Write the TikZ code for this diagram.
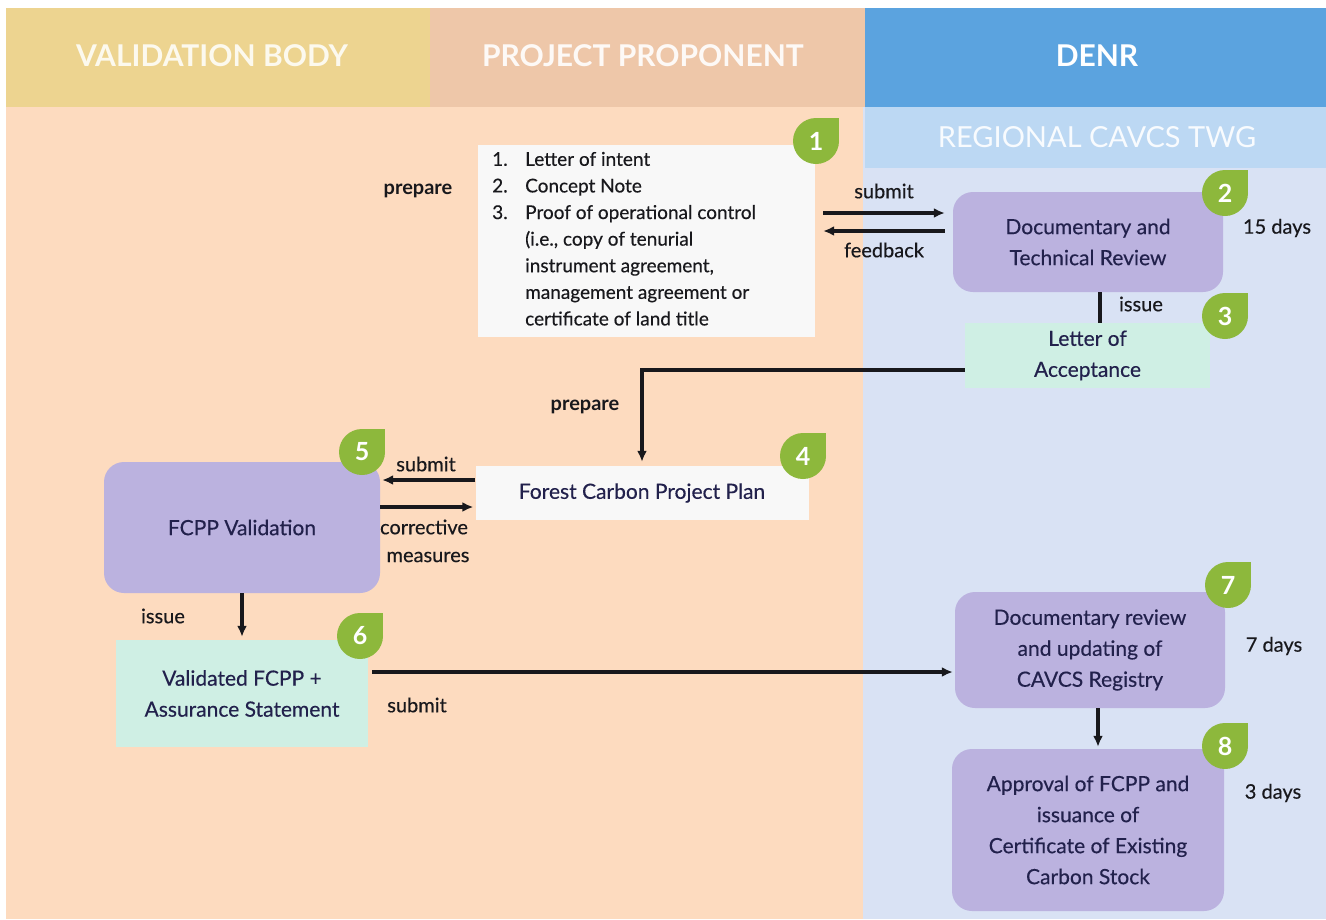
\documentclass[tikz,border=0pt]{standalone}
\usepackage{fontspec}
\setmainfont{Lato}
\newfontfamily\medfont{Lato}[FakeBold=0.35]
\usetikzlibrary{arrows.meta}
\definecolor{vbhead}{HTML}{EDD490}
\definecolor{pphead}{HTML}{EEC7A9}
\definecolor{denrhead}{HTML}{5BA3DF}
\definecolor{twg}{HTML}{BCD8F3}
\definecolor{peach}{HTML}{FDDBBF}
\definecolor{denrbg}{HTML}{D9E2F4}
\definecolor{purp}{HTML}{BBB2DF}
\definecolor{mint}{HTML}{CFEFE4}
\definecolor{paper}{HTML}{F8F8F8}
\definecolor{leaf}{HTML}{8DB83C}
\definecolor{navy}{HTML}{22214C}
\definecolor{ink}{HTML}{18181C}
\newcommand\leafbadge[3]{%
  \fill[leaf] (#1) circle (23pt);
  \fill[leaf] (#1) rectangle ++(23,-23);
  \node[badgetext] (#2) at (#1) {#3};}
\begin{document}
\begin{tikzpicture}[x=1pt,y=-1pt,
  boxtext/.style={font=\medfont\fontsize{21}{31}\selectfont, text=navy, align=center, inner sep=0pt},
  purpbox/.style={boxtext, fill=purp, rounded corners=20pt},
  mintbox/.style={boxtext, fill=mint},
  paperbox/.style={boxtext, fill=paper},
  lbl/.style={font=\medfont\fontsize{20}{24}\selectfont, text=ink, inner sep=0pt},
  badgetext/.style={font=\bfseries\fontsize{25}{25}\selectfont, text=white, inner sep=0pt},
  head/.style={font=\bfseries\fontsize{30}{30}\selectfont, inner sep=0pt},
  arr/.style={draw=ink, line width=3.2pt, -{Latex[length=11pt,width=10pt]}},
  plain/.style={draw=ink, line width=3.2pt}]
\useasboundingbox (0,0) rectangle (1326,919);
\fill[white] (0,0) rectangle (1326,919);
% lanes
\fill[vbhead] (6,8) rectangle (430,107);
\fill[pphead] (430,8) rectangle (865,107);
\fill[denrhead] (865,8) rectangle (1326,107);
\fill[peach] (6,107) rectangle (863,919);
\fill[denrbg] (863,107) rectangle (1326,919);
\fill[twg] (865,107) rectangle (1326,168);
\node[head, text=white!85!vbhead] (hvb) at (212,56) {VALIDATION BODY};
\node[head, text=white!90!pphead] (hpp) at (643,56) {PROJECT PROPONENT};
\node[head, text=white] (hdenr) at (1097,56) {DENR};
\node[font=\fontsize{29}{29}\selectfont, inner sep=0pt, text=white!90!twg] (htwg) at (1097,137) {REGIONAL CAVCS TWG};
% step 1
\node[paperbox, minimum width=337pt, minimum height=192pt] (n1) at (646.5,241) {};
\node[anchor=north west, inner sep=0pt, font=\medfont\fontsize{19}{26.6}\selectfont, text=ink] (n1t) at (492,147)
 {\begin{tabular}{@{}p{33pt}@{}l@{}}
  1. & Letter of intent\\
  2. & Concept Note\\
  3. & Proof of operational control\\
     & (i.e., copy of tenurial\\
     & instrument agreement,\\
     & management agreement or\\
     & certificate of land title
  \end{tabular}};
\leafbadge{816,141}{b1}{1}
\node[lbl, font=\bfseries\fontsize{20}{24}\selectfont] (lprep1) at (418,191) {prepare};
% step 2
\node[purpbox, minimum width=270pt, minimum height=100pt] (n2) at (1088,242) {Documentary and\\Technical Review};
\leafbadge{1225,193}{b2}{2}
\node[lbl] (l15) at (1277,228) {15 days};
\draw[arr, shorten <=8pt, shorten >=8pt] (n1.east |- 0,213) -- (n2.west |- 0,213);
\draw[arr, shorten <=8pt, shorten >=8pt] (n2.west |- 0,231) -- (n1.east |- 0,231);
\node[lbl] (lsub1) at (884,191) {submit};
\node[lbl] (lfb) at (884,250) {feedback};
% step 3
\node[mintbox, minimum width=245pt, minimum height=65pt] (n3) at (1087.5,355.5) {Letter of\\Acceptance};
\leafbadge{1225,316}{b3}{3}
\draw[plain] (n2.south -| 1100,0) -- (n3.north -| 1100,0);
\node[lbl] (liss1) at (1141,304) {issue};
% step 4
\node[paperbox, minimum width=333pt, minimum height=54pt] (n4) at (642,493) {Forest Carbon Project Plan};
\leafbadge{803,456}{b4}{4}
\draw[arr, shorten >=4pt] (n3.west |- 0,370) -| (n4.north -| 642,0);
\node[lbl, font=\bfseries\fontsize{20}{24}\selectfont] (lprep2) at (585,407) {prepare};
% step 5
\node[purpbox, minimum width=276pt, minimum height=131pt] (n5) at (242,527.5) {FCPP Validation};
\leafbadge{362,452}{b5}{5}
\draw[arr, shorten >=2pt] (n4.west |- 0,480) -- (n5.east |- 0,480);
\draw[arr, shorten >=2pt] (n5.east |- 0,507) -- (n4.west |- 0,507);
\node[lbl] (lsub2) at (426,464) {submit};
\node[lbl] (lcor) at (424,527) {corrective};
\node[lbl] (lmea) at (428,557) {measures};
% step 6
\node[mintbox, minimum width=252pt, minimum height=107pt] (n6) at (242,693.5) {Validated FCPP +\\Assurance Statement};
\leafbadge{360,636}{b6}{6}
\draw[arr, shorten >=3pt] (n5.south) -- (n6.north);
\node[lbl] (liss2) at (163,616) {issue};
% step 7
\node[purpbox, minimum width=270pt, minimum height=116pt] (n7) at (1090,650) {Documentary review\\and updating of\\CAVCS Registry};
\leafbadge{1228,585}{b7}{7}
\draw[arr, shorten <=4pt, shorten >=2pt] (n6.east |- 0,672) -- (n7.west |- 0,672);
\node[lbl] (lsub3) at (417,705) {submit};
\node[lbl] (l7) at (1274,646) {7 days};
% step 8
\node[purpbox, minimum width=272pt, minimum height=162pt] (n8) at (1088,830) {Approval of FCPP and\\issuance of\\Certificate of Existing\\Carbon Stock};
\leafbadge{1225,746}{b8}{8}
\draw[arr, shorten >=2pt] (n7.south -| 1098,0) -- (n8.north -| 1098,0);
\node[lbl] (l3) at (1273,793) {3 days};
\end{tikzpicture}
\end{document}
